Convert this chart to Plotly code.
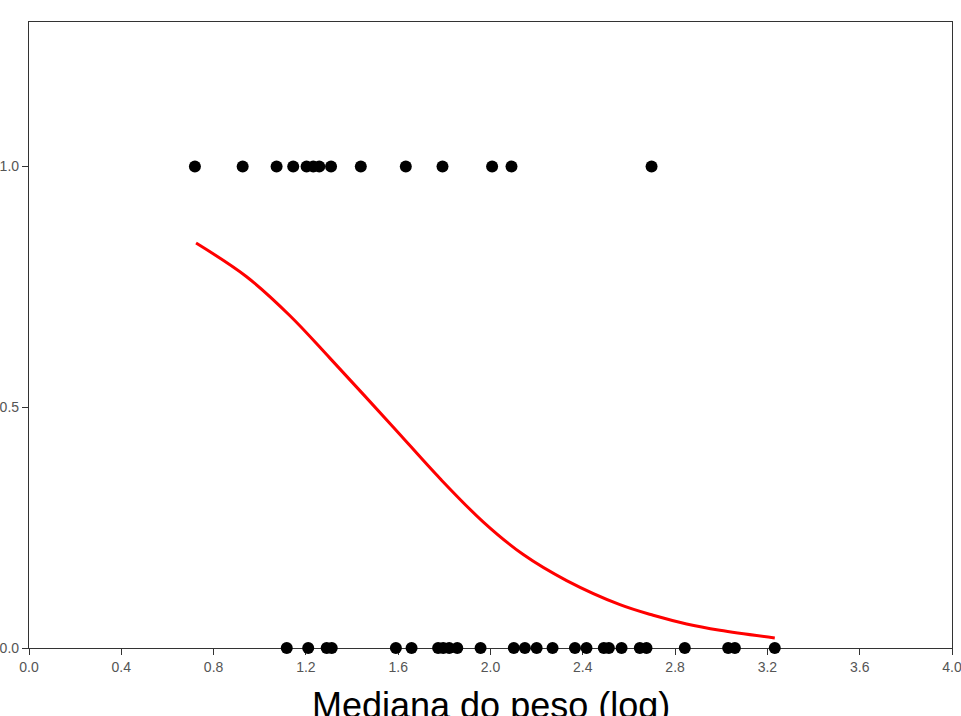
import plotly.graph_objects as go

# Observations with outcome 1 (top row)
x_one = [0.719, 0.926, 1.073, 1.145, 1.203, 1.232, 1.258, 1.309, 1.438,
         1.633, 1.792, 2.007, 2.091, 2.698]
y_one = [1.0] * len(x_one)

# Observations with outcome 0 (bottom row)
x_zero = [1.117, 1.210, 1.290, 1.312, 1.590, 1.658, 1.773, 1.795, 1.821,
          1.856, 1.957, 2.101, 2.149, 2.200, 2.269, 2.366, 2.416, 2.491,
          2.513, 2.568, 2.647, 2.676, 2.842, 3.030, 3.059, 3.232]
y_zero = [0.0] * len(x_zero)

# Fitted curve
curve_x = [0.724, 0.943, 1.131, 1.304, 1.578, 1.781, 1.968, 2.142,
           2.330, 2.561, 2.705, 2.850, 2.994, 3.232]
curve_y = [0.841, 0.771, 0.690, 0.602, 0.459, 0.352, 0.262, 0.194,
           0.140, 0.090, 0.068, 0.050, 0.037, 0.021]

x_ticks = [0.0, 0.4, 0.8, 1.2, 1.6, 2.0, 2.4, 2.8, 3.2, 3.6, 4.0]
y_ticks = [0.0, 0.5, 1.0]
x_title = "Mediana do peso (log)"

fig = go.Figure()
fig.add_trace(go.Scatter(x=curve_x, y=curve_y, mode="lines",
                         line=dict(color="#ff0000", width=3, shape="spline", smoothing=1.0),
                         hoverinfo="skip", cliponaxis=False))
fig.add_trace(go.Scatter(x=x_one + x_zero, y=y_one + y_zero, mode="markers",
                         marker=dict(color="black", size=12, line=dict(width=0)),
                         cliponaxis=False))

axis_common = dict(showgrid=False, zeroline=False, showline=True, automargin=False,
                   linecolor="#333333", linewidth=1.3, mirror=True,
                   ticks="outside", ticklen=6, tickcolor="#333333",
                   ticklabeloverflow="allow",
                   tickfont=dict(family="Liberation Sans, Arial", size=14, color="#555555"),
                   layer="below traces")

fig.update_layout(
    template="none",
    width=961, height=716,
    margin=dict(l=29, r=9, t=22, b=68),
    paper_bgcolor="white", plot_bgcolor="white",
    showlegend=False,
    xaxis=dict(range=[0, 4.0], tickvals=x_ticks, tickformat=".1f", **axis_common),
    yaxis=dict(range=[0, 1.3], tickvals=y_ticks, tickformat=".1f", **axis_common),
    annotations=[dict(text=x_title, xref="paper", yref="paper", x=0.5, y=0,
                      xanchor="center", yanchor="top", yshift=-35, showarrow=False,
                      font=dict(family="Liberation Sans, Arial", size=36, color="black"))],
)

fig.write_html("out.html", config={"displayModeBar": False},
               post_script="document.body.style.margin='0';document.body.style.overflow='hidden';")
